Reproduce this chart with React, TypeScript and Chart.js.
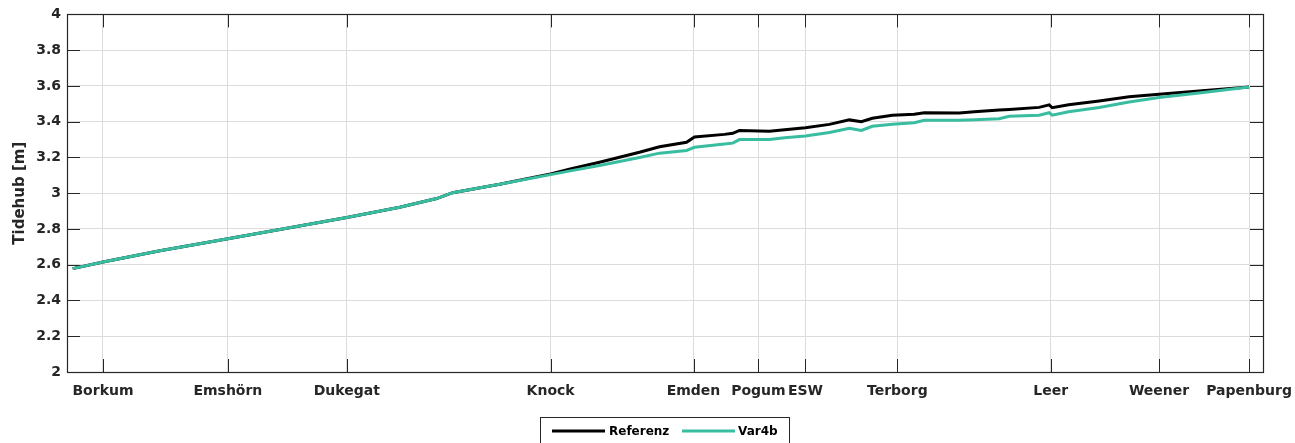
import React, { useEffect, useRef } from 'react';
import { Chart, registerables } from 'chart.js';

Chart.register(...registerables);

// ---- data ----
const stationNames = ['Borkum', 'Emshörn', 'Dukegat', 'Knock', 'Emden', 'Pogum', 'ESW', 'Terborg', 'Leer', 'Weener', 'Papenburg'];
const stationKm = [3.61, 16.14, 28.07, 48.52, 62.86, 69.37, 74.09, 83.31, 98.7, 109.57, 118.6];

const xKm = [
  0.57, 3.61, 9.32, 16.14, 21.35, 28.07, 33.38, 37.09, 38.7, 43.41, 48.52,
  50.5, 53.43, 57.44, 59.45, 62.16, 62.96, 65.96, 66.8, 67.47, 70.48, 72.0,
  74.09, 76.49, 78.5, 79.7, 80.8, 82.81, 85.01, 86.02, 89.52, 91.03, 93.53,
  94.54, 97.54, 98.55, 98.85, 100.5, 103.56, 106.57, 109.57, 113.58, 118.6,
];
const referenz = [
  2.578, 2.615, 2.678, 2.745, 2.797, 2.864, 2.921, 2.97, 3.003, 3.05, 3.108,
  3.135, 3.173, 3.229, 3.26, 3.285, 3.314, 3.329, 3.335, 3.351, 3.347, 3.355,
  3.366, 3.385, 3.41, 3.4, 3.419, 3.436, 3.441, 3.45, 3.448, 3.455, 3.465,
  3.468, 3.48, 3.494, 3.478, 3.495, 3.516, 3.539, 3.554, 3.572, 3.594,
];
const var4b = [
  2.578, 2.615, 2.678, 2.745, 2.797, 2.864, 2.921, 2.97, 3.003, 3.05, 3.104,
  3.125, 3.155, 3.2, 3.224, 3.239, 3.257, 3.275, 3.28, 3.3, 3.3, 3.31,
  3.32, 3.339, 3.363, 3.351, 3.374, 3.385, 3.394, 3.408, 3.408, 3.411, 3.417,
  3.43, 3.436, 3.45, 3.436, 3.455, 3.479, 3.51, 3.535, 3.56, 3.594,
];

const seriesNames = ['Referenz', 'Var4b'];
const seriesColors = ['#000000', '#38bda0'];
const yAxisTitle = 'Tidehub [m]';
const yMin = 2;
const yMax = 4;
const yStep = 0.2;
const xMin = 0;
const xMax = 120;

const FONT = 'DejaVu Sans';
const TEXT = '#262626';
const GRID = '#dcdcdc';
const TICK_LEN = 13;

const framePlugin = {
  id: 'frameTicks',
  beforeDatasetsDraw(chart: any) {
    const { ctx, chartArea } = chart;
    const { left, right, top, bottom } = chartArea;
    const xs = chart.scales.x;
    const ys = chart.scales.y;
    ctx.save();
    ctx.strokeStyle = TEXT;
    ctx.lineWidth = 1;
    ctx.beginPath();
    for (const t of ys.ticks) {
      const y = Math.round(ys.getPixelForValue(t.value)) + 0.5;
      ctx.moveTo(left, y);
      ctx.lineTo(left + TICK_LEN, y);
      ctx.moveTo(right, y);
      ctx.lineTo(right - TICK_LEN, y);
    }
    for (const v of stationKm) {
      const x = Math.round(xs.getPixelForValue(v)) + 0.5;
      ctx.moveTo(x, bottom);
      ctx.lineTo(x, bottom - TICK_LEN);
      ctx.moveTo(x, top);
      ctx.lineTo(x, top + TICK_LEN);
    }
    ctx.stroke();
    ctx.lineWidth = 1.2;
    ctx.strokeRect(Math.round(left) + 0.5, Math.round(top) + 0.5, Math.round(right - left), Math.round(bottom - top));
    ctx.restore();
  },
  afterDraw(chart: any) {
    const { ctx } = chart;
    ctx.save();
    const bx = 540.5, by = 417.5, bw = 249, bh = 40;
    ctx.fillStyle = '#ffffff';
    ctx.fillRect(bx, by, bw, bh);
    ctx.strokeStyle = TEXT;
    ctx.lineWidth = 1;
    ctx.strokeRect(bx, by, bw, bh);
    const cy = 431;
    const items = [
      { x0: 552, x1: 605, tx: 609 },
      { x0: 682, x1: 735, tx: 738 },
    ];
    ctx.font = `bold 12px "${FONT}"`;
    ctx.textBaseline = 'middle';
    ctx.textAlign = 'left';
    items.forEach((it, i) => {
      ctx.strokeStyle = seriesColors[i];
      ctx.lineWidth = 3;
      ctx.beginPath();
      ctx.moveTo(it.x0, cy);
      ctx.lineTo(it.x1, cy);
      ctx.stroke();
      ctx.fillStyle = '#000000';
      ctx.fillText(seriesNames[i], it.tx, cy + 0.5);
    });
    ctx.restore();
  },
};

export default function App() {
  const ref = useRef<HTMLCanvasElement | null>(null);

  useEffect(() => {
    document.body.style.margin = '0';
    const canvas = ref.current;
    if (!canvas) return;
    const toPts = (ys: number[]) => xKm.map((x, i) => ({ x, y: ys[i] }));
    const chart = new Chart(canvas, {
      type: 'line',
      data: {
        datasets: [
          {
            label: seriesNames[0],
            data: toPts(referenz),
            borderColor: seriesColors[0],
            backgroundColor: seriesColors[0],
            borderWidth: 3,
            pointRadius: 0,
            tension: 0,
            order: 1,
          },
          {
            label: seriesNames[1],
            data: toPts(var4b),
            borderColor: seriesColors[1],
            backgroundColor: seriesColors[1],
            borderWidth: 3,
            pointRadius: 0,
            tension: 0,
            order: 0,
          },
        ],
      },
      options: {
        responsive: false,
        animation: false,
        layout: { padding: { top: 12, right: 32, left: 0, bottom: 0 } },
        plugins: {
          legend: { display: false },
          tooltip: { enabled: false },
        },
        scales: {
          x: {
            type: 'linear',
            min: xMin,
            max: xMax,
            afterBuildTicks: (scale: any) => {
              scale.ticks = stationKm.map((v) => ({ value: v }));
            },
            afterFit: (scale: any) => {
              scale.height = 71;
              scale.paddingLeft = 0;
              scale.paddingRight = 0;
            },
            ticks: {
              autoSkip: false,
              maxRotation: 0,
              minRotation: 0,
              padding: 11,
              color: TEXT,
              font: { family: FONT, size: 14, weight: 'bold' },
              callback: (_v: any, i: number) => stationNames[i],
            },
            grid: { color: GRID, drawTicks: false, lineWidth: 1 },
            border: { display: false },
          },
          y: {
            type: 'linear',
            min: yMin,
            max: yMax,
            afterFit: (scale: any) => {
              scale.width = 67;
            },
            ticks: {
              stepSize: yStep,
              padding: 6,
              color: TEXT,
              font: { family: FONT, size: 14, weight: 'bold' },
              callback: (v: any) => String(Math.round(Number(v) * 10) / 10),
            },
            grid: { color: GRID, drawTicks: false, lineWidth: 1 },
            border: { display: false },
            title: {
              display: true,
              text: yAxisTitle,
              color: TEXT,
              font: { family: FONT, size: 15, weight: 'bold' },
              padding: { top: 11, bottom: 0 },
            },
          },
        },
      },
      plugins: [framePlugin],
    });
    return () => chart.destroy();
  }, []);

  return (
    <div style={{ position: 'absolute', left: 0, top: 0, width: 1295, height: 443, background: '#fff' }}>
      <canvas ref={ref} width={1295} height={443} style={{ width: 1295, height: 443, display: 'block' }} />
    </div>
  );
}
